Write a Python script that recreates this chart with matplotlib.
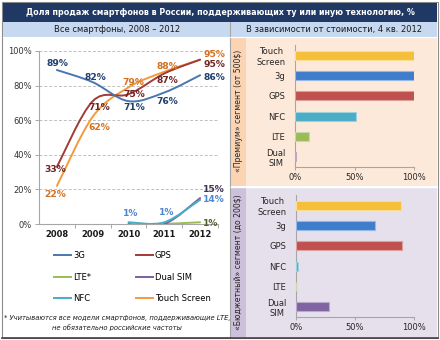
import numpy as np
import matplotlib
matplotlib.use('Agg')
import matplotlib.pyplot as plt
from matplotlib.patches import Rectangle, PathPatch
from matplotlib.path import Path
from matplotlib.lines import Line2D

## values, %
years = ['2008', '2009', '2010', '2011', '2012']
share_3g = [89, 82, 71, 76, 86]
share_gps = [33, 71, 75, 87, 95]
share_touch = [22, 62, 79, 88, 95]
share_nfc = [np.nan, np.nan, 1, 1, 14]
share_dualsim = [np.nan, np.nan, 0, 0, 15]
share_lte = [np.nan, np.nan, np.nan, 0, 1]

bar_cats = ['Touch\nScreen', '3g', 'GPS', 'NFC', 'LTE', 'Dual\nSIM']
premium = [100, 100, 100, 51, 12, 0.5]
budget = [89, 67, 90, 1.5, 0, 28]

W, H = 440, 340
plt.rcParams['font.family'] = ['DejaVu Sans']

fig = plt.figure(figsize=(W / 100, H / 100), dpi=100)


def box(x0, y0, x1, y1):
    # pixel box (top-left origin) -> figure fraction rect
    return [x0 / W, 1 - y1 / H, (x1 - x0) / W, (y1 - y0) / H]


def smooth_path(xs, ys):
    # bezier through the points, excel-style smoothed line
    pts = [np.array([x, y], float) for x, y in zip(xs, ys) if not np.isnan(y)]
    n = len(pts)
    verts = [pts[0]]
    codes = [Path.MOVETO]
    for i in range(n - 1):
        p0 = pts[i - 1] if i > 0 else pts[i]
        p1, p2 = pts[i], pts[i + 1]
        p3 = pts[i + 2] if i + 2 < n else p2
        verts += [p1 + (p2 - p0) / 6.0, p2 - (p3 - p1) / 6.0, p2]
        codes += [Path.CURVE4] * 3
    return Path(verts, codes)


# background, frames, headers
bg = fig.add_axes([0, 0, 1, 1])
bg.set_xlim(0, W)
bg.set_ylim(H, 0)
bg.axis('off')
bg.add_patch(Rectangle((2, 2), 436, 336, fc='white', ec='#8c8c8c', lw=0.8))
bg.add_patch(Rectangle((3, 3), 434, 19, fc='#1f3864', ec='none'))
bg.add_patch(Rectangle((3, 22), 434, 14.5, fc='#c6d9f1', ec='none'))
bg.add_patch(Rectangle((231, 37), 206, 149, fc='#fde9d9', ec='none'))
bg.add_patch(Rectangle((231, 37), 15, 149, fc='#fbd4b4', ec='none'))
bg.add_patch(Rectangle((231, 187), 206, 150, fc='#e5e0ec', ec='none'))
bg.add_patch(Rectangle((231, 187), 15, 150, fc='#ccc0da', ec='none'))
bg.plot([230, 230], [22, 337], color='#a6a6a6', lw=0.8)
bg.plot([3, 437], [36.5, 36.5], color='#ffffff', lw=0.8)
bg.plot([231, 437], [186.5, 186.5], color='#ffffff', lw=1.0)
bg.plot([2, 438], [338, 338], color='#404040', lw=1.2)

bg.text(220, 12.5, 'Доля продаж смартфонов в России, поддерживающих ту или иную технологию, %',
        color='white', fontsize=5.8, fontweight='bold', ha='center', va='center')
bg.text(117, 29.5, 'Все смартфоны, 2008 – 2012', fontsize=6, ha='center', va='center', color='#1a1a1a')
bg.text(334, 29.5, 'В зависимости от стоимости, 4 кв. 2012', fontsize=6, ha='center', va='center',
        color='#1a1a1a')
bg.text(238.5, 111, '«Премиум» сегмент (от 500$)', fontsize=5.6, rotation=90,
        ha='center', va='center', color='#262626')
bg.text(238.5, 262, '«Бюджетный» сегмент (до 200$)', fontsize=5.6, rotation=90,
        ha='center', va='center', color='#262626')
bg.text(117, 318, '* Учитываются все модели смартфонов, поддерживающие LTE,', fontsize=4.9,
        style='italic', ha='center', va='center', color='#1a1a1a')
bg.text(117, 328, 'не обязательно российские частоты', fontsize=4.9,
        style='italic', ha='center', va='center', color='#1a1a1a')

# line chart, all smartphones
ax = fig.add_axes(box(39, 51, 218, 224))
ax.set_facecolor('none')
x = np.arange(len(years))
ax.set_xlim(-0.5, 4.5)
ax.set_ylim(0, 100)

series = [
    ('3G', share_3g, '#4a76b0', '#1f3f6e'),
    ('GPS', share_gps, '#a23a37', '#6e2422'),
    ('LTE*', share_lte, '#9bbb59', '#4f6228'),
    ('Dual SIM', share_dualsim, '#7a5f9e', '#3f3151'),
    ('NFC', share_nfc, '#4bacc6', '#4f86d0'),
    ('Touch Screen', share_touch, '#f39a3c', '#d2711f'),
]
draw_order = ['Touch Screen', 'GPS', '3G', 'LTE*', 'Dual SIM', 'NFC']
lookup = {s[0]: s for s in series}
for name in draw_order:
    _, vals, col, _ = lookup[name]
    ax.add_patch(PathPatch(smooth_path(x, vals), fc='none', ec=col, lw=1.4,
                           capstyle='round', zorder=3))

# label offsets in pixels (dx, dy up); None = no label
offsets = {
    '3G': [(1, 7), (3, 5), (6, -6), (3, -8.5), None],
    'GPS': [(-2, -3), (7, -6), (6, 0), (3, -7.5), None],
    'Touch Screen': [(-2, -9), (7, -11), (5, 5), (3, 5), None],
    'NFC': [None, None, (2, 9), (2, 10), None],
    'Dual SIM': [None, None, None, None, None],
    'LTE*': [None, None, None, None, None],
}
end_dy = {'3G': -2, 'GPS': -4.5, 'Touch Screen': 5, 'Dual SIM': 9, 'NFC': 0, 'LTE*': -1}
for name, vals, col, lab_col in series:
    for i, v in enumerate(vals):
        if np.isnan(v):
            continue
        if i == len(vals) - 1:
            ax.annotate('%d%%' % v, (x[i], v), xytext=(3, end_dy[name]), textcoords='offset pixels',
                        ha='left', va='center', fontsize=6.6, fontweight='bold', color=lab_col,
                        annotation_clip=False, zorder=5)
            continue
        off = offsets[name][i]
        if off is None:
            continue
        ax.annotate('%d%%' % v, (x[i], v), xytext=off, textcoords='offset pixels',
                    ha='center', va='center', fontsize=6.6, fontweight='bold', color=lab_col,
                    annotation_clip=False, zorder=5)

ax.set_yticks(np.arange(0, 101, 20))
ax.set_yticklabels(['%d%%' % t for t in range(0, 101, 20)])
ax.yaxis.grid(True, linestyle=(0, (3, 2)), color='#bfbfbf', lw=0.7)
ax.set_axisbelow(True)
ax.set_xticks(x)
ax.set_xticklabels(years, fontweight='bold')
ax.set_xticks(np.arange(0.5, 4.6, 1), minor=True)
ax.tick_params(axis='x', which='major', length=0, labelsize=6, pad=4, colors='#1a1a1a')
ax.tick_params(axis='x', which='minor', length=3, color='#a6a6a6', width=0.7)
ax.tick_params(axis='y', length=3, color='#a6a6a6', width=0.7, labelsize=6, pad=2,
               labelcolor='#333333')
for s in ['top', 'right']:
    ax.spines[s].set_visible(False)
for s in ['left', 'bottom']:
    ax.spines[s].set_color('#a6a6a6')
    ax.spines[s].set_linewidth(0.8)

handles = [Line2D([], [], color=lookup[n][2], lw=1.4) for n in ['3G', 'LTE*', 'NFC', 'GPS', 'Dual SIM', 'Touch Screen']]
labels = ['3G', 'LTE*', 'NFC', 'GPS', 'Dual SIM', 'Touch Screen']
fig.legend(handles, labels, ncol=2, loc='upper left', bbox_to_anchor=(51 / W, 1 - 248 / H),
           frameon=False, fontsize=6, handlelength=2.0, handletextpad=0.25,
           labelspacing=1.5, columnspacing=5.4, borderaxespad=0)

# bar charts by price segment
bar_cols = ['#f5bf3a', '#3f7ccc', '#c0504d', '#4bacc6', '#9bbb59', '#8064a2']


def bar_panel(rect, vals):
    a = fig.add_axes(rect)
    a.set_facecolor('none')
    pos = np.arange(len(bar_cats))
    edge = [tuple(0.55 * np.array(matplotlib.colors.to_rgb(c)) + 0.45) for c in bar_cols]
    a.barh(pos, vals, height=0.44, color=bar_cols, edgecolor=edge, linewidth=0.8, zorder=3)
    a.set_xlim(0, 100)
    a.set_ylim(len(bar_cats) - 0.5, -0.5)
    a.set_yticks(pos)
    a.set_yticklabels(bar_cats, multialignment='center')
    a.set_xticks([0, 50, 100])
    a.set_xticklabels(['0%', '50%', '100%'])
    a.tick_params(axis='y', length=0, labelsize=6, pad=7, labelcolor='#262626')
    a.tick_params(axis='x', length=2.5, color='#a6a6a6', width=0.7, labelsize=6, pad=2,
                  labelcolor='#262626')
    for s in ['top', 'right']:
        a.spines[s].set_visible(False)
    for s in ['left', 'bottom']:
        a.spines[s].set_color('#a6a6a6')
        a.spines[s].set_linewidth(0.8)
    return a


bar_panel(box(295, 45, 414, 167), premium)
bar_panel(box(296, 195, 414, 317), budget)

fig.savefig('out.png', dpi=100)
